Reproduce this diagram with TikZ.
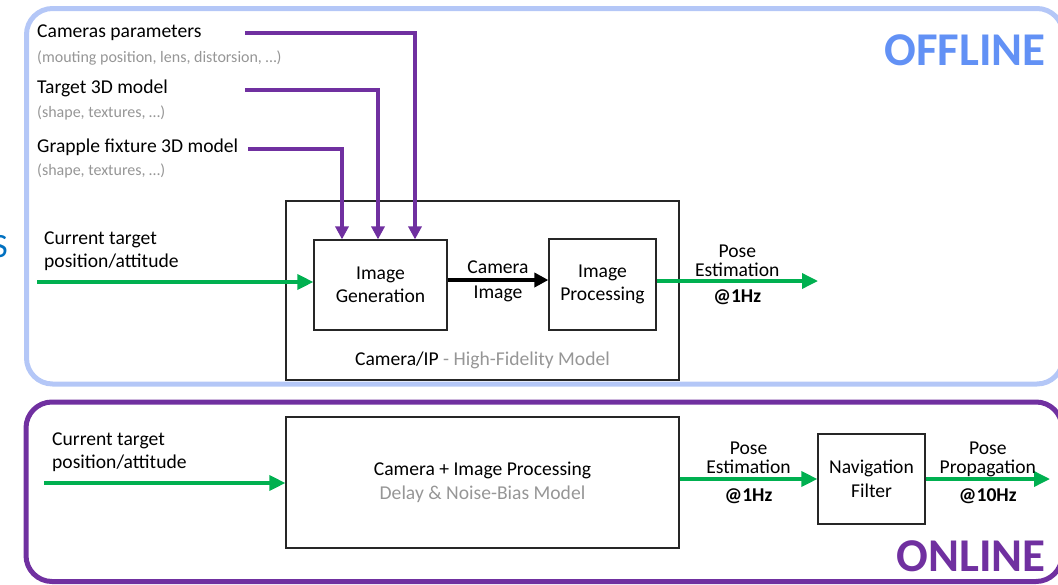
\documentclass[tikz,border=0pt]{standalone}
\usepackage{fontspec}
\setmainfont{Carlito}
\usetikzlibrary{arrows.meta}
\definecolor{offblue}{RGB}{180,199,247}
\definecolor{offtext}{RGB}{98,145,245}
\definecolor{onpurple}{RGB}{112,48,160}
\definecolor{flowgreen}{RGB}{0,176,80}
\definecolor{notegray}{RGB}{150,150,150}
\definecolor{sideblue}{RGB}{0,112,192}

\begin{document}
\begin{tikzpicture}[x=1pt,y=-1pt,
    txt/.style={font=\fontsize{19.6}{23.5}\selectfont,inner sep=0pt,text=black},
    note/.style={font=\fontsize{16}{18}\selectfont,text=notegray,inner sep=0pt},
    blk/.style={txt,draw=black!85,line width=1.2pt,align=center},
    lbl/.style={font=\fontsize{19.6}{19}\selectfont,inner sep=0pt,align=center,text depth=0pt,text=black},
    rate/.style={font=\fontsize{19.6}{19}\selectfont\bfseries,inner sep=0pt,text=black},
    flow/.style={flowgreen,line width=3.5pt,-{Triangle[length=16pt,width=15pt]}},
    feed/.style={onpurple,line width=3.5pt,-{Triangle[length=13pt,width=13pt]}},
    zone/.style={line width=5pt,rounded corners=26pt}]
  \useasboundingbox (0,0) rectangle (1058,584);

  \draw[zone,offblue] (26.5,8.5) rectangle (1063,384);
  \draw[zone,onpurple] (26,402) rectangle (1062,581.5);
  \node[font=\fontsize{34}{34}\selectfont,text=sideblue,anchor=east,inner sep=0pt] (cut) at (8,247) {S};

  \node[font=\fontsize{47}{47}\selectfont\bfseries,text=offtext] (offline) at (965,50) {OFFLINE};
  \node[font=\fontsize{47}{47}\selectfont\bfseries,text=onpurple] (online) at (971,556) {ONLINE};

  % offline inputs
  \node[txt,anchor=west] (campar) at (37,33) {Cameras parameters};
  \node[note,anchor=west] (camnote) at (37,58) {(mouting position, lens, distorsion, …)};
  \node[txt,anchor=west] (tgtmod) at (37,88) {Target 3D model};
  \node[note,anchor=west] (tgtnote) at (37,113) {(shape, textures, …)};
  \node[txt,anchor=west] (grpmod) at (37,147) {Grapple fixture 3D model};
  \node[note,anchor=west] (grpnote) at (37,171) {(shape, textures, …)};
  \node[txt,anchor=west,align=left] (cur1) at (44,251) {Current target\\position/attitude};

  \node[draw=black!85,line width=1.2pt,minimum width=393pt,minimum height=179pt] (camip) at (482.5,290.5) {};
  \node[blk,minimum width=133pt,minimum height=90pt] (gen) at (380.5,285) {Image\\Generation};
  \node[blk,minimum width=107pt,minimum height=91pt] (proc) at (602.5,284.5) {Image\\Processing};
  \node[txt,anchor=center] (hifi) at ([yshift=20pt]camip.south) {Camera/IP \textcolor{notegray}{- High-Fidelity Model}};

  \coordinate (p1) at (245,33);
  \coordinate (p2) at (245,90);
  \coordinate (p3) at (248,149);
  \coordinate (in1) at (37,282);
  \coordinate (estout) at (818,281);

  \draw[feed] (p1) -| ([xshift=34.5pt]gen.north);
  \draw[feed] (p2) -| ([xshift=-2.5pt]gen.north);
  \draw[feed] (p3) -| ([xshift=-38.5pt]gen.north);
  \draw[flow] (in1) -- (in1 -| gen.west);
  \draw[black,line width=4pt,-{Triangle[length=14pt,width=14pt]}] ([yshift=5pt]gen.east) -- ([yshift=5pt]gen.east -| proc.west)
    node[midway,above=5pt,lbl] {Camera}
    node[midway,below=4pt,txt] {Image};
  \draw[flow] (proc.east |- estout) -- (estout)
    node[pos=0.5,above=3pt,lbl] {Pose\\Estimation}
    node[pos=0.5,below=7pt,rate] {@1Hz};

  % online chain
  \node[txt,anchor=west,align=left] (cur2) at (52,452) {Current target\\position/attitude};
  \node[blk,minimum width=393pt,minimum height=131pt] (cipmod) at (482.5,482.5) {Camera + Image Processing\\\textcolor{notegray}{Delay \& Noise-Bias Model}};
  \node[blk,minimum width=107pt,minimum height=90pt] (nav) at (871.5,479) {Navigation\\Filter};

  \coordinate (in2) at (44,483);
  \coordinate (navout) at (1050,479);

  \draw[flow] (in2) -- (in2 -| cipmod.west);
  \draw[flow] (cipmod.east |- nav.west) -- (nav.west)
    node[midway,above=4pt,lbl] {Pose\\Estimation}
    node[midway,below=8pt,rate] {@1Hz};
  \draw[flow] (nav.east) -- (navout)
    node[midway,above=4pt,lbl] {Pose\\Propagation}
    node[midway,below=8pt,rate] {@10Hz};
\end{tikzpicture}
\end{document}
